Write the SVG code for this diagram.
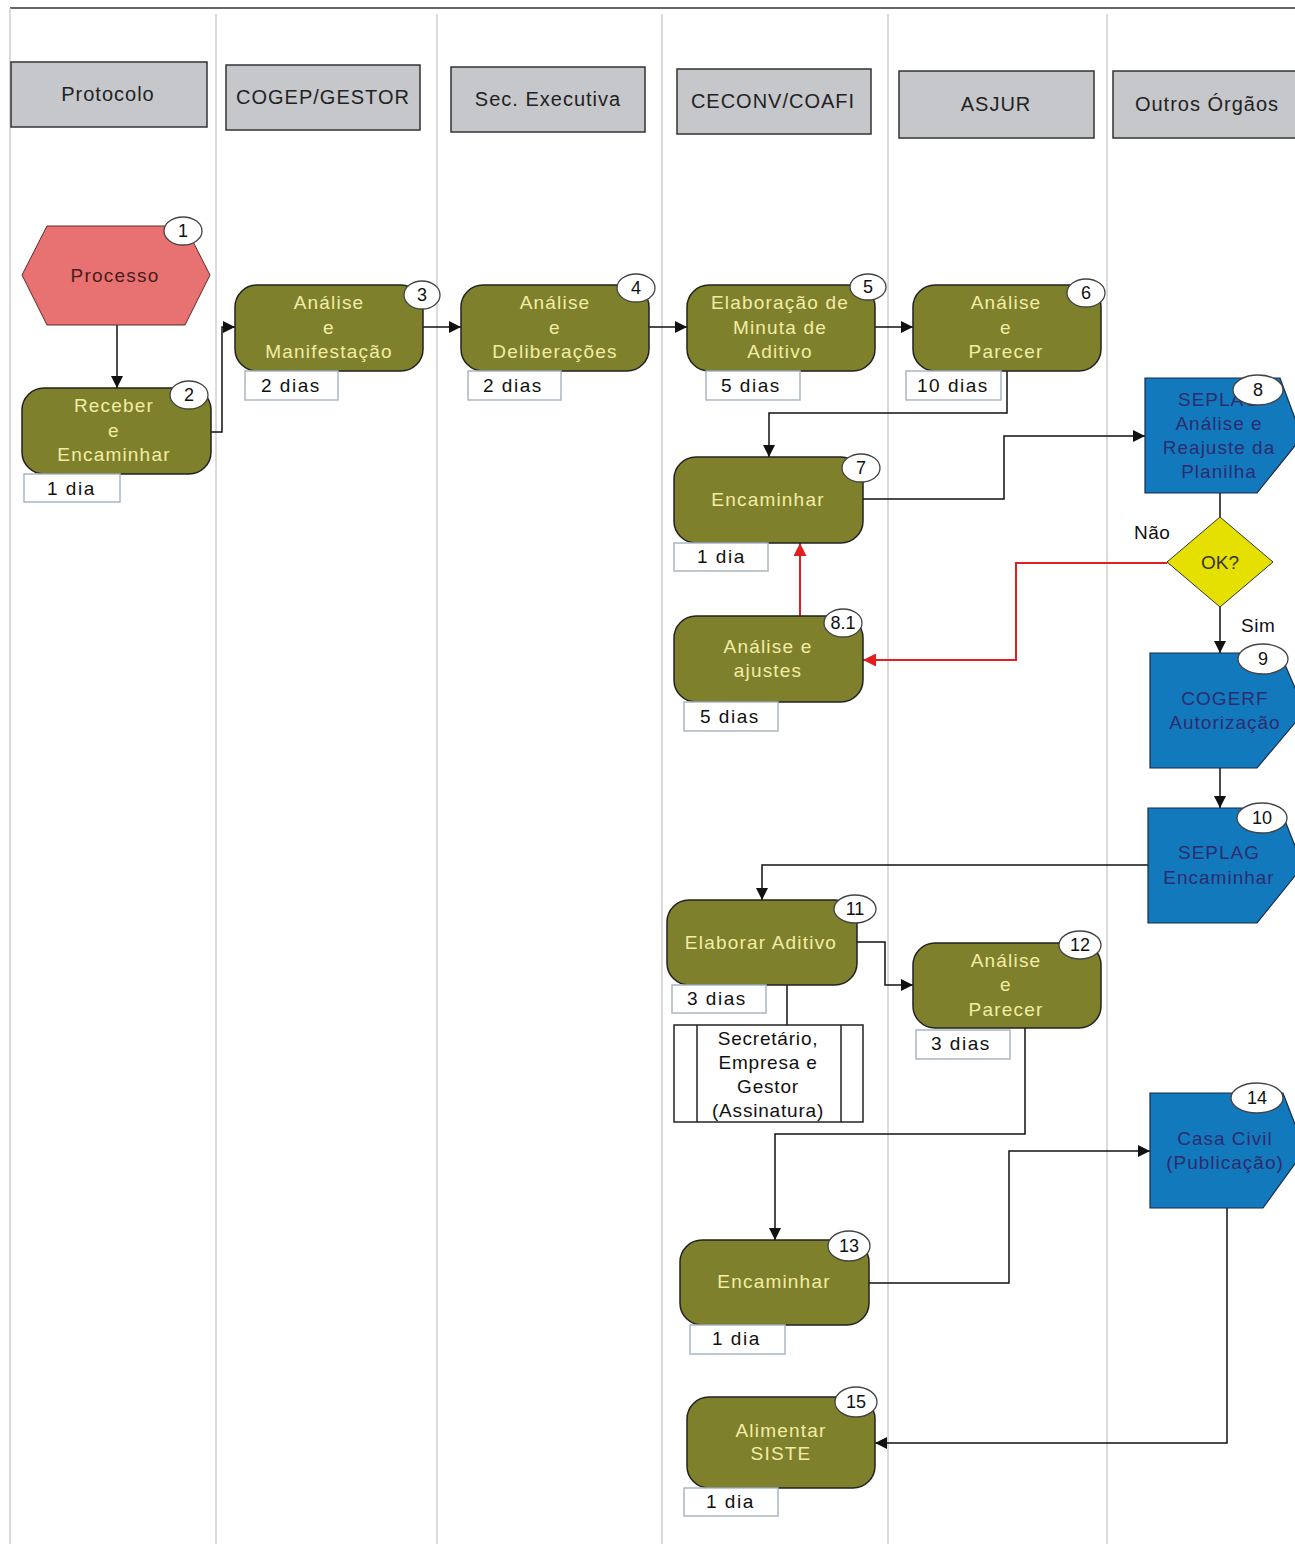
<svg xmlns="http://www.w3.org/2000/svg" width="1295" height="1544" viewBox="0 0 1295 1544">
<defs>
<marker id="ah" viewBox="0 0 10 10" refX="10" refY="5" markerWidth="12" markerHeight="12" markerUnits="userSpaceOnUse" orient="auto"><path d="M0,0 L10,5 L0,10 z" fill="#111"/></marker>
<marker id="ahr" viewBox="0 0 10 10" refX="10" refY="5" markerWidth="13" markerHeight="13" markerUnits="userSpaceOnUse" orient="auto"><path d="M0,0 L10,5 L0,10 z" fill="#e02020"/></marker>
<style>
text{font-family:"Liberation Sans",Arial,sans-serif;}
.lane{stroke:#cfcfcf;stroke-width:1.5;fill:none}
.hdr{fill:#c6c7cb;stroke:#333;stroke-width:1.5}
.hdrt{font-size:20px;fill:#222;text-anchor:middle;letter-spacing:1px}
.act{fill:#7f802c;stroke:#222;stroke-width:1.5}
.actt{font-size:19px;fill:#f2eda6;text-anchor:middle;letter-spacing:1.2px}
.ext{fill:#1279bd;stroke:#1b2a4a;stroke-width:1.2}
.extt{font-size:19px;fill:#2d2c6e;text-anchor:middle;letter-spacing:1px}
.badge{fill:#fff;stroke:#444;stroke-width:1.3}
.badget{font-size:18px;fill:#111;text-anchor:middle}
.dur{fill:#fff;stroke:#a9b6c4;stroke-width:1.5}
.durt{font-size:19px;fill:#111;letter-spacing:1.5px}
.con{stroke:#111;stroke-width:1.5;fill:none}
.red{stroke:#e02020;stroke-width:2;fill:none}
.lbl{font-size:19px;fill:#111;letter-spacing:0.5px}
</style>
</defs>
<rect x="0" y="0" width="1295" height="1544" fill="#fff"/>
<g id="frame">
<path d="M10,8 H1295" stroke="#333" stroke-width="1.5" fill="none"/>
<path d="M10,8 V1544" class="lane"/>
<path d="M216,14 V1544 M437,14 V1544 M662,14 V1544 M888,14 V1544 M1107,14 V1544" class="lane"/>
</g>
<g id="headers">
<g id="h-protocolo"><rect x="11" y="62" width="196" height="65" class="hdr"/><text x="108" y="101" class="hdrt">Protocolo</text></g>
<g id="h-cogep"><rect x="226" y="65" width="194" height="65" class="hdr"/><text x="323" y="104" class="hdrt">COGEP/GESTOR</text></g>
<g id="h-sec"><rect x="451" y="67" width="194" height="65" class="hdr"/><text x="548" y="106" class="hdrt">Sec. Executiva</text></g>
<g id="h-ceconv"><rect x="677" y="69" width="194" height="65" class="hdr"/><text x="773" y="108" class="hdrt">CECONV/COAFI</text></g>
<g id="h-asjur"><rect x="899" y="71" width="195" height="67" class="hdr"/><text x="996" y="111" class="hdrt">ASJUR</text></g>
<g id="h-outros"><rect x="1113" y="71" width="190" height="67" class="hdr"/><text x="1207" y="111" class="hdrt">Outros Órgãos</text></g>
</g>
<g id="connectors">
<path d="M117,325 V388" class="con" marker-end="url(#ah)"/>
<path d="M211,432 H222 V327 H235" class="con" marker-end="url(#ah)"/>
<path d="M423,327 H461" class="con" marker-end="url(#ah)"/>
<path d="M649,327 H687" class="con" marker-end="url(#ah)"/>
<path d="M875,327 H913" class="con" marker-end="url(#ah)"/>
<path d="M1007,371 V413 H769 V457" class="con" marker-end="url(#ah)"/>
<path d="M863,499 H1004 V436 H1145" class="con" marker-end="url(#ah)"/>
<path d="M1220,493 V517" class="con"/>
<path d="M1220,607 V653" class="con" marker-end="url(#ah)"/>
<path d="M1167,563 H1016 V660 H863" class="red" marker-end="url(#ahr)"/>
<path d="M800,616 V543" class="red" marker-end="url(#ahr)"/>
<path d="M1220,768 V808" class="con" marker-end="url(#ah)"/>
<path d="M1148,865 H762 V900" class="con" marker-end="url(#ah)"/>
<path d="M857,942 H885 V985 H913" class="con" marker-end="url(#ah)"/>
<path d="M787,985 V1025" class="con"/>
<path d="M1025,1028 V1134 H775 V1240" class="con" marker-end="url(#ah)"/>
<path d="M869,1283 H1009 V1151 H1150" class="con" marker-end="url(#ah)"/>
<path d="M1227,1208 V1443 H875" class="con" marker-end="url(#ah)"/>
<text x="1134" y="539" class="lbl">Não</text>
<text x="1241" y="632" class="lbl">Sim</text>
</g>
<g id="n1">
<polygon points="22,275 47,226 185,226 210,275 185,325 47,325" fill="#e87271" stroke="#5a2a2a" stroke-width="1"/>
<text x="115" y="282" font-size="19" fill="#4a1c1c" text-anchor="middle" letter-spacing="1.2">Processo</text>
<ellipse cx="183" cy="231" rx="19" ry="14" class="badge"/><text x="183" y="237" class="badget">1</text>
</g>
<g id="n2">
<rect x="22" y="388" width="189" height="86" rx="22" class="act"/>
<text class="actt"><tspan x="114" y="412">Receber</tspan><tspan x="114" y="437">e</tspan><tspan x="114" y="461">Encaminhar</tspan></text>
<ellipse cx="189" cy="395" rx="19" ry="14" class="badge"/><text x="189" y="401" class="badget">2</text>
<rect x="24" y="474" width="96" height="28" class="dur"/><text x="47" y="495" class="durt">1 dia</text>
</g>
<g id="n3">
<rect x="235" y="285" width="188" height="86" rx="22" class="act"/>
<text class="actt"><tspan x="329" y="309">Análise</tspan><tspan x="329" y="334">e</tspan><tspan x="329" y="358">Manifestação</tspan></text>
<ellipse cx="422" cy="295" rx="18" ry="14" class="badge"/><text x="422" y="301" class="badget">3</text>
<rect x="245" y="371" width="93" height="29" class="dur"/><text x="261" y="392" class="durt">2 dias</text>
</g>
<g id="n4">
<rect x="461" y="285" width="188" height="86" rx="22" class="act"/>
<text class="actt"><tspan x="555" y="309">Análise</tspan><tspan x="555" y="334">e</tspan><tspan x="555" y="358">Deliberações</tspan></text>
<ellipse cx="636" cy="288" rx="19" ry="14" class="badge"/><text x="636" y="294" class="badget">4</text>
<rect x="468" y="371" width="93" height="29" class="dur"/><text x="483" y="392" class="durt">2 dias</text>
</g>
<g id="n5">
<rect x="687" y="285" width="188" height="86" rx="22" class="act"/>
<text class="actt"><tspan x="780" y="309">Elaboração de</tspan><tspan x="780" y="334">Minuta de</tspan><tspan x="780" y="358">Aditivo</tspan></text>
<ellipse cx="868" cy="287" rx="18" ry="13" class="badge"/><text x="868" y="293" class="badget">5</text>
<rect x="706" y="371" width="94" height="29" class="dur"/><text x="721" y="392" class="durt">5 dias</text>
</g>
<g id="n6">
<rect x="913" y="285" width="188" height="86" rx="22" class="act"/>
<text class="actt"><tspan x="1006" y="309">Análise</tspan><tspan x="1006" y="334">e</tspan><tspan x="1006" y="358">Parecer</tspan></text>
<ellipse cx="1086" cy="293" rx="19" ry="14" class="badge"/><text x="1086" y="299" class="badget">6</text>
<rect x="906" y="371" width="95" height="29" class="dur"/><text x="917" y="392" class="durt">10 dias</text>
</g>
<g id="n7">
<rect x="674" y="457" width="189" height="86" rx="22" class="act"/>
<text x="768" y="506" class="actt">Encaminhar</text>
<ellipse cx="861" cy="468" rx="19" ry="14" class="badge"/><text x="861" y="474" class="badget">7</text>
<rect x="674" y="543" width="94" height="28" class="dur"/><text x="697" y="563" class="durt">1 dia</text>
</g>
<g id="n81">
<rect x="674" y="616" width="189" height="86" rx="22" class="act"/>
<text class="actt"><tspan x="768" y="653">Análise e</tspan><tspan x="768" y="677">ajustes</tspan></text>
<ellipse cx="843" cy="623" rx="19" ry="14" class="badge"/><text x="843" y="629" class="badget">8.1</text>
<rect x="684" y="702" width="94" height="29" class="dur"/><text x="700" y="723" class="durt">5 dias</text>
</g>
<g id="n8">
<polygon points="1145,378 1280,378 1302,437 1257,493 1145,493" class="ext"/>
<text class="extt"><tspan x="1219" y="406">SEPLAG</tspan><tspan x="1219" y="430">Análise e</tspan><tspan x="1219" y="454">Reajuste da</tspan><tspan x="1219" y="478">Planilha</tspan></text>
<ellipse cx="1258" cy="390" rx="25" ry="15" class="badge"/><text x="1258" y="396" class="badget">8</text>
</g>
<g id="ok">
<polygon points="1220,517 1273,562 1220,607 1167,562" fill="#e6e000" stroke="#333" stroke-width="1"/>
<text x="1220" y="569" font-size="19" fill="#333" text-anchor="middle">OK?</text>
</g>
<g id="n9">
<polygon points="1150,653 1280,653 1305,711 1257,768 1150,768" class="ext"/>
<text class="extt"><tspan x="1225" y="705">COGERF</tspan><tspan x="1225" y="729">Autorização</tspan></text>
<ellipse cx="1263" cy="659" rx="25" ry="15" class="badge"/><text x="1263" y="665" class="badget">9</text>
</g>
<g id="n10">
<polygon points="1148,808 1280,808 1303,866 1257,923 1148,923" class="ext"/>
<text class="extt"><tspan x="1219" y="859">SEPLAG</tspan><tspan x="1219" y="884">Encaminhar</tspan></text>
<ellipse cx="1262" cy="818" rx="25" ry="15" class="badge"/><text x="1262" y="824" class="badget">10</text>
</g>
<g id="n11">
<rect x="667" y="900" width="190" height="85" rx="22" class="act"/>
<text x="761" y="949" class="actt">Elaborar Aditivo</text>
<ellipse cx="855" cy="909" rx="21" ry="14" class="badge"/><text x="855" y="915" class="badget">11</text>
<rect x="672" y="985" width="94" height="28" class="dur"/><text x="687" y="1005" class="durt">3 dias</text>
</g>
<g id="n11b">
<rect x="674" y="1025" width="189" height="97" fill="#fff" stroke="#222" stroke-width="1.5"/>
<path d="M697,1025 V1122 M841,1025 V1122" stroke="#222" stroke-width="1.5"/>
<text font-size="19" fill="#111" text-anchor="middle" letter-spacing="0.8"><tspan x="768" y="1045">Secretário,</tspan><tspan x="768" y="1069">Empresa e</tspan><tspan x="768" y="1093">Gestor</tspan><tspan x="768" y="1117">(Assinatura)</tspan></text>
</g>
<g id="n12">
<rect x="913" y="943" width="188" height="85" rx="22" class="act"/>
<text class="actt"><tspan x="1006" y="967">Análise</tspan><tspan x="1006" y="991">e</tspan><tspan x="1006" y="1016">Parecer</tspan></text>
<ellipse cx="1080" cy="945" rx="21" ry="14" class="badge"/><text x="1080" y="951" class="badget">12</text>
<rect x="916" y="1030" width="94" height="29" class="dur"/><text x="931" y="1050" class="durt">3 dias</text>
</g>
<g id="n13">
<rect x="680" y="1240" width="189" height="85" rx="22" class="act"/>
<text x="774" y="1288" class="actt">Encaminhar</text>
<ellipse cx="849" cy="1246" rx="21" ry="15" class="badge"/><text x="849" y="1252" class="badget">13</text>
<rect x="690" y="1325" width="95" height="29" class="dur"/><text x="712" y="1345" class="durt">1 dia</text>
</g>
<g id="n14">
<polygon points="1150,1093 1283,1093 1305,1150 1263,1208 1150,1208" class="ext"/>
<text class="extt"><tspan x="1225" y="1145">Casa Civil</tspan><tspan x="1225" y="1169">(Publicação)</tspan></text>
<ellipse cx="1257" cy="1098" rx="26" ry="15" class="badge"/><text x="1257" y="1104" class="badget">14</text>
</g>
<g id="n15">
<rect x="687" y="1397" width="188" height="91" rx="22" class="act"/>
<text class="actt"><tspan x="781" y="1437">Alimentar</tspan><tspan x="781" y="1460">SISTE</tspan></text>
<ellipse cx="856" cy="1402" rx="21" ry="15" class="badge"/><text x="856" y="1408" class="badget">15</text>
<rect x="684" y="1488" width="94" height="28" class="dur"/><text x="706" y="1508" class="durt">1 dia</text>
</g>
</svg>
